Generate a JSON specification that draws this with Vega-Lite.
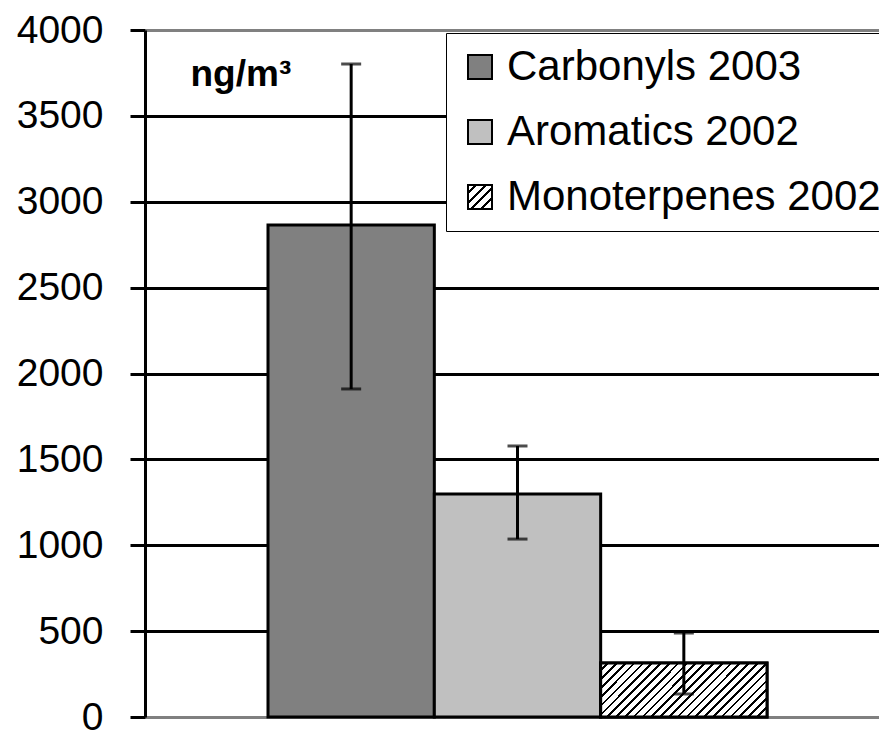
{
  "$schema": "https://vega.github.io/schema/vega-lite/v6.json",
  "autosize": "none",
  "padding": {"left": 145, "top": 30, "right": 0, "bottom": 15},
  "width": 734,
  "height": 687,
  "background": "white",
  "config": {"view": {"stroke": null}, "font": "Liberation Sans"},
  "data": {"values": [
    {"series": "Carbonyls 2003", "value": 2865, "lo": 1910, "hi": 3802},
    {"series": "Aromatics 2002", "value": 1298, "lo": 1036, "hi": 1578},
    {"series": "Monoterpenes 2002", "value": 314, "lo": 134, "hi": 489}
  ]},
  "encoding": {
    "x": {"field": "series", "type": "nominal",
      "sort": ["Carbonyls 2003", "Aromatics 2002", "Monoterpenes 2002"],
      "scale": {"paddingInner": 0, "paddingOuter": 0.7064, "align": 0.5234},
      "axis": {"labels": false, "ticks": false, "title": null, "domainColor": "#808080", "domainWidth": 3, "grid": false}}
  },
  "layer": [
    {
      "mark": {"type": "bar", "stroke": "black", "strokeWidth": 3},
      "encoding": {
        "y": {"field": "value", "type": "quantitative",
          "scale": {"domain": [0, 4000], "nice": false},
          "axis": {
            "values": [0, 500, 1000, 1500, 2000, 2500, 3000, 3500, 4000],
            "format": "d",
            "labelFontSize": 39, "labelColor": "black", "labelFont": "Liberation Sans",
            "labelPadding": 27, "tickSize": 15, "tickColor": "black", "tickWidth": 3,
            "domainColor": "black", "domainWidth": 3,
            "grid": true, "gridWidth": 3,
            "gridColor": {"condition": {"test": "datum.value === 0 || datum.value === 4000", "value": "#808080"}, "value": "black"},
            "title": "ng/m³", "titleAngle": 0, "titleX": 45, "titleY": 55,
            "titleAlign": "left", "titleBaseline": "alphabetic",
            "titleFontSize": 37, "titleFontWeight": "bold", "titleColor": "black", "titleFont": "Liberation Sans"
          }},
        "color": {
          "field": "series", "type": "nominal",
          "scale": {"domain": ["Carbonyls 2003", "Aromatics 2002", "Monoterpenes 2002"], "range": ["#808080", "#c0c0c0", "#ffffff"]},
          "legend": null
        },
        "opacity": {
          "field": "series", "type": "ordinal",
          "sort": ["Carbonyls 2003", "Aromatics 2002", "Monoterpenes 2002"],
          "scale": {"range": [1, 1, 1]},
          "legend": {
            "title": null, "orient": "none", "legendX": 301, "legendY": 3,
            "fillColor": "white", "strokeColor": "black",
            "padding": 13, "rowPadding": 23,
            "symbolType": "square", "symbolSize": 576, "symbolStrokeColor": "black", "symbolStrokeWidth": 2,
            "symbolFillColor": {"expr": "datum.value === 'Monoterpenes 2002' ? {gradient: 'linear', x1: 0, y1: 0, x2: 1, y2: 1, stops: [{offset: 0, color: '#fff'}, {offset: 0.14, color: '#fff'}, {offset: 0.14, color: '#000'}, {offset: 0.2, color: '#000'}, {offset: 0.2, color: '#fff'}, {offset: 0.34, color: '#fff'}, {offset: 0.34, color: '#000'}, {offset: 0.4, color: '#000'}, {offset: 0.4, color: '#fff'}, {offset: 0.54, color: '#fff'}, {offset: 0.54, color: '#000'}, {offset: 0.6, color: '#000'}, {offset: 0.6, color: '#fff'}, {offset: 0.74, color: '#fff'}, {offset: 0.74, color: '#000'}, {offset: 0.8, color: '#000'}, {offset: 0.8, color: '#fff'}, {offset: 0.94, color: '#fff'}, {offset: 0.94, color: '#000'}, {offset: 1, color: '#000'}]} : scale('color', datum.value)"},
            "labelFontSize": 42, "labelFont": "Liberation Sans", "labelColor": "black", "labelOffset": 6, "labelLimit": 1000
          }
        }
      }
    },
    {
      "transform": [{"filter": "datum.series === 'Monoterpenes 2002'"}],
      "mark": {"type": "bar", "stroke": "black", "strokeWidth": 3,
        "fill": {
            "gradient": "linear", "x1": 0, "y1": 0, "x2": 1.198, "y2": 0.3875,
            "stops": [
              {"offset": 0, "color": "#fff"}, {"offset": 0.028, "color": "#fff"}, {"offset": 0.028, "color": "#000"}, {"offset": 0.04, "color": "#000"},
              {"offset": 0.04, "color": "#fff"}, {"offset": 0.068, "color": "#fff"}, {"offset": 0.068, "color": "#000"}, {"offset": 0.08, "color": "#000"},
              {"offset": 0.08, "color": "#fff"}, {"offset": 0.108, "color": "#fff"}, {"offset": 0.108, "color": "#000"}, {"offset": 0.12, "color": "#000"},
              {"offset": 0.12, "color": "#fff"}, {"offset": 0.148, "color": "#fff"}, {"offset": 0.148, "color": "#000"}, {"offset": 0.16, "color": "#000"},
              {"offset": 0.16, "color": "#fff"}, {"offset": 0.188, "color": "#fff"}, {"offset": 0.188, "color": "#000"}, {"offset": 0.2, "color": "#000"},
              {"offset": 0.2, "color": "#fff"}, {"offset": 0.228, "color": "#fff"}, {"offset": 0.228, "color": "#000"}, {"offset": 0.24, "color": "#000"},
              {"offset": 0.24, "color": "#fff"}, {"offset": 0.268, "color": "#fff"}, {"offset": 0.268, "color": "#000"}, {"offset": 0.28, "color": "#000"},
              {"offset": 0.28, "color": "#fff"}, {"offset": 0.308, "color": "#fff"}, {"offset": 0.308, "color": "#000"}, {"offset": 0.32, "color": "#000"},
              {"offset": 0.32, "color": "#fff"}, {"offset": 0.348, "color": "#fff"}, {"offset": 0.348, "color": "#000"}, {"offset": 0.36, "color": "#000"},
              {"offset": 0.36, "color": "#fff"}, {"offset": 0.388, "color": "#fff"}, {"offset": 0.388, "color": "#000"}, {"offset": 0.4, "color": "#000"},
              {"offset": 0.4, "color": "#fff"}, {"offset": 0.428, "color": "#fff"}, {"offset": 0.428, "color": "#000"}, {"offset": 0.44, "color": "#000"},
              {"offset": 0.44, "color": "#fff"}, {"offset": 0.468, "color": "#fff"}, {"offset": 0.468, "color": "#000"}, {"offset": 0.48, "color": "#000"},
              {"offset": 0.48, "color": "#fff"}, {"offset": 0.508, "color": "#fff"}, {"offset": 0.508, "color": "#000"}, {"offset": 0.52, "color": "#000"},
              {"offset": 0.52, "color": "#fff"}, {"offset": 0.548, "color": "#fff"}, {"offset": 0.548, "color": "#000"}, {"offset": 0.56, "color": "#000"},
              {"offset": 0.56, "color": "#fff"}, {"offset": 0.588, "color": "#fff"}, {"offset": 0.588, "color": "#000"}, {"offset": 0.6, "color": "#000"},
              {"offset": 0.6, "color": "#fff"}, {"offset": 0.628, "color": "#fff"}, {"offset": 0.628, "color": "#000"}, {"offset": 0.64, "color": "#000"},
              {"offset": 0.64, "color": "#fff"}, {"offset": 0.668, "color": "#fff"}, {"offset": 0.668, "color": "#000"}, {"offset": 0.68, "color": "#000"},
              {"offset": 0.68, "color": "#fff"}, {"offset": 0.708, "color": "#fff"}, {"offset": 0.708, "color": "#000"}, {"offset": 0.72, "color": "#000"},
              {"offset": 0.72, "color": "#fff"}, {"offset": 0.748, "color": "#fff"}, {"offset": 0.748, "color": "#000"}, {"offset": 0.76, "color": "#000"},
              {"offset": 0.76, "color": "#fff"}, {"offset": 0.788, "color": "#fff"}, {"offset": 0.788, "color": "#000"}, {"offset": 0.8, "color": "#000"},
              {"offset": 0.8, "color": "#fff"}, {"offset": 0.828, "color": "#fff"}, {"offset": 0.828, "color": "#000"}, {"offset": 0.84, "color": "#000"},
              {"offset": 0.84, "color": "#fff"}, {"offset": 0.868, "color": "#fff"}, {"offset": 0.868, "color": "#000"}, {"offset": 0.88, "color": "#000"},
              {"offset": 0.88, "color": "#fff"}, {"offset": 0.908, "color": "#fff"}, {"offset": 0.908, "color": "#000"}, {"offset": 0.92, "color": "#000"},
              {"offset": 0.92, "color": "#fff"}, {"offset": 0.948, "color": "#fff"}, {"offset": 0.948, "color": "#000"}, {"offset": 0.96, "color": "#000"},
              {"offset": 0.96, "color": "#fff"}, {"offset": 0.988, "color": "#fff"}, {"offset": 0.988, "color": "#000"}, {"offset": 1, "color": "#000"}
            ]}},
      "encoding": {"y": {"field": "value", "type": "quantitative"}}
    },
    {
      "mark": {"type": "rule", "color": "black", "strokeWidth": 3},
      "encoding": {"y": {"field": "lo", "type": "quantitative"}, "y2": {"field": "hi"}}
    },
    {
      "mark": {"type": "tick", "color": "black", "size": 20, "thickness": 3, "orient": "horizontal"},
      "encoding": {"y": {"field": "lo", "type": "quantitative"}}
    },
    {
      "mark": {"type": "tick", "color": "black", "size": 20, "thickness": 3, "orient": "horizontal"},
      "encoding": {"y": {"field": "hi", "type": "quantitative"}}
    }
  ]
}
